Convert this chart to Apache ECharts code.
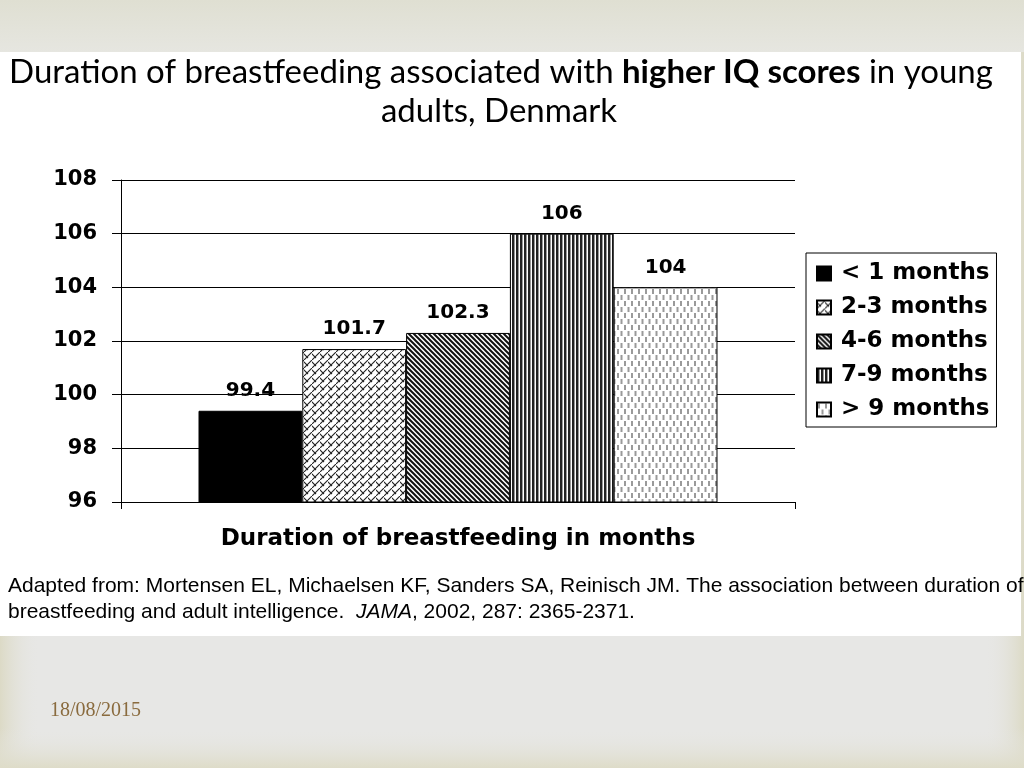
<!DOCTYPE html>
<html>
<head>
<meta charset="utf-8">
<script src="https://cdn.jsdelivr.net/npm/echarts@6/dist/echarts.min.js"></script>
<style>
html,body{margin:0;padding:0;background:#e6e6e4;}
#c{width:1024px;height:768px;}
</style>
</head>
<body>
<div id="c"></div>
<script>
// ---- data ----
const categories = ['< 1 months', '2-3 months', '4-6 months', '7-9 months', '> 9 months'];
const iqValues = [99.4, 101.7, 102.3, 106, 104];
const yMin = 96, yMax = 108, yStep = 2;
const xAxisTitle = 'Duration of breastfeeding in months';
const dateText = '18/08/2015';

// ---- fill patterns ----
function tile(w, h, draw) {
  const c = document.createElement('canvas');
  c.width = w; c.height = h;
  const g = c.getContext('2d');
  g.fillStyle = '#ffffff';
  g.fillRect(0, 0, w, h);
  draw(g, w, h);
  return { image: c, repeat: 'repeat' };
}
const fills = [
  '#000000',
  tile(8, 8, function (g) {            // diagonal brick
    g.strokeStyle = '#222'; g.lineWidth = 1.1;
    g.beginPath();
    g.moveTo(-1, 9); g.lineTo(9, -1);
    g.moveTo(-1, 1); g.lineTo(4, 6);
    g.stroke();
  }),
  tile(5, 5, function (g) {            // dense diagonal stripes
    g.strokeStyle = '#111'; g.lineWidth = 2;
    g.beginPath();
    for (let x = -5; x <= 5; x += 5) { g.moveTo(x - 1, -1); g.lineTo(x + 6, 6); }
    g.stroke();
  }),
  tile(4, 4, function (g) {            // vertical stripes
    g.fillStyle = '#222'; g.fillRect(0, 0, 2, 4);
    g.fillStyle = '#999'; g.fillRect(2, 0, 1, 4);
  }),
  tile(7, 12, function (g) {           // vertical dashes
    g.fillStyle = '#9a9a9a';
    g.fillRect(1, 1, 2, 5);
    g.fillRect(4.5, 7, 2, 5);
  })
];

const boldFont = 'DejaVu Sans';

const series = categories.map(function (name, i) {
  return {
    name: name,
    type: 'bar',
    barGap: 0,
    barCategoryGap: '23%',
    data: [iqValues[i]],
    itemStyle: { color: fills[i], borderColor: '#000', borderWidth: 1 },
    label: {
      show: true, position: 'top', distance: 10,
      fontFamily: boldFont, fontWeight: 'bold', fontSize: 20, color: '#000'
    }
  };
});

const chart = echarts.init(document.getElementById('c'));
chart.setOption({
  animation: false,
  backgroundColor: 'transparent',
  graphic: [
    { type: 'rect', z: -20, shape: { x: 0, y: 0, width: 1024, height: 768 },
      style: { fill: '#e7e7e5' } },
    { type: 'rect', z: -19, shape: { x: 0, y: 0, width: 40, height: 768 },
      style: { fill: { type: 'linear', x: 0, y: 0, x2: 1, y2: 0,
        colorStops: [{ offset: 0, color: '#dcdac6' }, { offset: 1, color: 'rgba(231,231,229,0)' }] } } },
    { type: 'rect', z: -19, shape: { x: 984, y: 0, width: 40, height: 768 },
      style: { fill: { type: 'linear', x: 0, y: 0, x2: 1, y2: 0,
        colorStops: [{ offset: 0, color: 'rgba(231,231,229,0)' }, { offset: 1, color: '#dcdac6' }] } } },
    { type: 'rect', z: -19, shape: { x: 0, y: 728, width: 1024, height: 40 },
      style: { fill: { type: 'linear', x: 0, y: 0, x2: 0, y2: 1,
        colorStops: [{ offset: 0, color: 'rgba(231,231,229,0)' }, { offset: 1, color: '#dedcc8' }] } } },
    { type: 'rect', z: -19, shape: { x: 0, y: 0, width: 1024, height: 52 },
      style: { fill: { type: 'linear', x: 0, y: 0, x2: 0, y2: 1,
        colorStops: [{ offset: 0, color: '#dfdfd2' }, { offset: 1, color: '#e6e6e0' }] } } },
    { type: 'rect', z: -18, shape: { x: 0, y: 52, width: 1021, height: 584 },
      style: { fill: '#ffffff' } },
    { type: 'text', z: 10, x: 501, y: 72,
      style: {
        text: '{n|Duration of breastfeeding associated with }{b|higher IQ scores}{n| in young}',
        align: 'center', verticalAlign: 'middle',
        rich: {
          n: { fontFamily: 'Lato', fontSize: 33, fill: '#000' },
          b: { fontFamily: 'Lato', fontSize: 33, fontWeight: 'bold', fill: '#000' }
        }
      } },
    { type: 'text', z: 10, x: 499, y: 111,
      style: { text: 'adults, Denmark', align: 'center', verticalAlign: 'middle',
        fontFamily: 'Lato', fontSize: 33, fill: '#000' } },
    { type: 'text', z: 10, x: 8, y: 586,
      style: { text: 'Adapted from: Mortensen EL, Michaelsen KF, Sanders SA, Reinisch JM. The association between duration of',
        align: 'left', verticalAlign: 'middle', fontFamily: 'Liberation Sans', fontSize: 21, fill: '#000' } },
    { type: 'text', z: 10, x: 8, y: 612,
      style: {
        text: '{n|breastfeeding and adult intelligence.  }{i|JAMA}{n|, 2002, 287: 2365-2371.}',
        align: 'left', verticalAlign: 'middle',
        rich: {
          n: { fontFamily: 'Liberation Sans', fontSize: 21, fill: '#000' },
          i: { fontFamily: 'Liberation Sans', fontSize: 21, fontStyle: 'italic', fill: '#000' }
        }
      } },
    { type: 'text', z: 10, x: 50, y: 711,
      style: { text: dateText, align: 'left', verticalAlign: 'middle',
        fontFamily: 'Liberation Serif', fontSize: 20, fill: '#8a6b3e' } }
  ],
  legend: {
    orient: 'vertical',
    left: 806, top: 253,
    backgroundColor: '#fff',
    borderColor: '#000', borderWidth: 1, borderRadius: 0,
    padding: [9, 7, 6, 10],
    itemWidth: 14, itemHeight: 14, itemGap: 11,
    icon: 'rect',
    textStyle: { fontFamily: boldFont, fontWeight: 'bold', fontSize: 23, color: '#000', padding: [0, 0, 0, 5] },
    data: categories
  },
  grid: { left: 121, right: 229, top: 180, bottom: 266 },
  xAxis: {
    type: 'category',
    data: [''],
    name: xAxisTitle,
    nameLocation: 'middle',
    nameGap: 26,
    nameTextStyle: { fontFamily: boldFont, fontWeight: 'bold', fontSize: 23, color: '#000' },
    axisLine: { lineStyle: { color: '#000', width: 1 } },
    axisTick: { show: true, length: 7, lineStyle: { color: '#000' } },
    axisLabel: { show: false }
  },
  yAxis: {
    type: 'value',
    min: yMin, max: yMax, interval: yStep,
    axisLine: { show: true, lineStyle: { color: '#000', width: 1 } },
    axisTick: { show: true, length: 9, lineStyle: { color: '#000' } },
    splitLine: { show: true, lineStyle: { color: '#000', width: 1 } },
    axisLabel: { margin: 24, fontFamily: boldFont, fontWeight: 'bold', fontSize: 21, color: '#000' }
  },
  series: series
});
</script>
</body>
</html>
